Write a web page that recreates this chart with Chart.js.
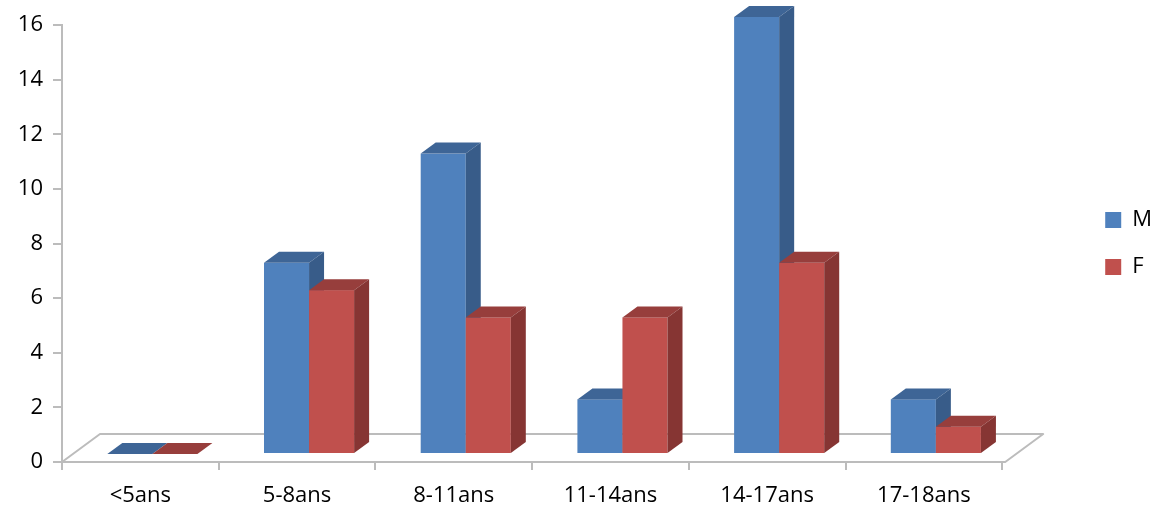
<!DOCTYPE html>
<html>
<head>
<meta charset="utf-8">
<script src="https://cdn.jsdelivr.net/npm/chart.js@4.4.1/dist/chart.umd.min.js"></script>
<style>
  html, body { margin: 0; padding: 0; background: #ffffff; }
  #wrap { width: 1162px; height: 509px; position: relative; }
</style>
</head>
<body>
<div id="wrap"><canvas id="chart"></canvas></div>
<script>
// Age groups and counts per sex
const categories = ['<5ans', '5-8ans', '8-11ans', '11-14ans', '14-17ans', '17-18ans'];
const maleCounts = [0, 7, 11, 2, 16, 2];
const femaleCounts = [0, 6, 5, 5, 7, 1];
const seriesNames = ['M', 'F'];
const yTickValues = [0, 2, 4, 6, 8, 10, 12, 14, 16];

// Colours: front face, top face, side face
const palette = [
  { front: '#4f81bd', top: '#3e6596', side: '#385c89' },
  { front: '#c0504d', top: '#973e3c', side: '#863533' }
];

const BAR_DEPTH = { dx: 15, dy: 11 };   // depth of each column
const FLOOR_DEPTH = { dx: 38, dy: 28 }; // depth of the floor plane
const BAR_SHIFT = { x: 12, y: -8 };     // columns stand mid-way into the floor
const LINE_GREY = '#bcbcbc';

Chart.defaults.font.family = "'Open Sans', 'Lato', sans-serif";
Chart.defaults.font.size = 22;
Chart.defaults.color = '#000000';

// Draws the floor, then every column front-to-back with its top and side faces
const column3d = {
  id: 'column3d',
  beforeDatasetsDraw(chart) {
    const { ctx, chartArea: a } = chart;
    ctx.save();
    ctx.beginPath();
    ctx.moveTo(a.left, a.bottom);
    ctx.lineTo(a.right + 3, a.bottom);
    ctx.lineTo(a.right + 3 + FLOOR_DEPTH.dx, a.bottom - FLOOR_DEPTH.dy);
    ctx.lineTo(a.left + FLOOR_DEPTH.dx, a.bottom - FLOOR_DEPTH.dy);
    ctx.closePath();
    ctx.fillStyle = '#ffffff';
    ctx.fill();
    ctx.strokeStyle = LINE_GREY;
    ctx.lineWidth = 2;
    ctx.lineJoin = 'round';
    ctx.stroke();

    ctx.translate(BAR_SHIFT.x, BAR_SHIFT.y);
    const metas = chart.data.datasets.map((_, i) => chart.getDatasetMeta(i));
    categories.forEach((_, i) => {
      metas.forEach((meta, d) => {
        const bar = meta.data[i];
        if (!bar) return;
        const { x, y, base, width } = bar.getProps(['x', 'y', 'base', 'width'], true);
        const l = x - width / 2, r = x + width / 2;
        const c = palette[d];
        // front
        ctx.fillStyle = c.front;
        ctx.fillRect(l, y, width, base - y);
        // top
        ctx.beginPath();
        ctx.moveTo(l, y);
        ctx.lineTo(r, y);
        ctx.lineTo(r + BAR_DEPTH.dx, y - BAR_DEPTH.dy);
        ctx.lineTo(l + BAR_DEPTH.dx, y - BAR_DEPTH.dy);
        ctx.closePath();
        ctx.fillStyle = c.top;
        ctx.fill();
        // side
        if (base - y > 0) {
          ctx.beginPath();
          ctx.moveTo(r, y);
          ctx.lineTo(r + BAR_DEPTH.dx, y - BAR_DEPTH.dy);
          ctx.lineTo(r + BAR_DEPTH.dx, base - BAR_DEPTH.dy);
          ctx.lineTo(r, base);
          ctx.closePath();
          ctx.fillStyle = c.side;
          ctx.fill();
        }
      });
    });
    ctx.restore();
    return false;
  }
};

new Chart(document.getElementById('chart'), {
  type: 'bar',
  data: {
    labels: categories,
    datasets: [
      { label: seriesNames[0], data: maleCounts, backgroundColor: palette[0].front, borderWidth: 0 },
      { label: seriesNames[1], data: femaleCounts, backgroundColor: palette[1].front, borderWidth: 0 }
    ]
  },
  options: {
    responsive: true,
    maintainAspectRatio: false,
    animation: false,
    events: [],
    categoryPercentage: 0.575,
    barPercentage: 1,
    layout: { padding: { top: 25, bottom: 2, left: 0, right: 0 } },
    plugins: {
      legend: {
        position: 'right',
        align: 'center',
        fullSize: false,
        labels: {
          boxWidth: 16,
          boxHeight: 16,
          padding: 25,
          font: { size: 22 },
          color: '#000000'
        }
      },
      tooltip: { enabled: false }
    },
    scales: {
      x: {
        offset: true,
        afterFit(scale) { scale.height = 45; },
        grid: {
          offset: true,
          drawOnChartArea: false,
          tickLength: 8,
          color: LINE_GREY,
          lineWidth: 2
        },
        border: { display: true, color: LINE_GREY, width: 2 },
        ticks: { padding: 13, font: { size: 22 }, color: '#000000' }
      },
      y: {
        min: 0,
        max: 16,
        afterBuildTicks(scale) { scale.ticks = yTickValues.map(v => ({ value: v })); },
        afterFit(scale) { scale.width = 62; },
        grid: {
          drawOnChartArea: false,
          tickLength: 9,
          color: LINE_GREY,
          lineWidth: 2
        },
        border: { display: true, color: LINE_GREY, width: 2 },
        ticks: { padding: 10, font: { size: 22 }, color: '#000000' }
      },
      gap: {
        type: 'linear',
        position: 'right',
        display: true,
        grid: { display: false },
        border: { display: false },
        ticks: { display: false },
        afterFit(scale) { scale.width = 78; }
      }
    }
  },
  plugins: [column3d]
});
</script>
</body>
</html>
